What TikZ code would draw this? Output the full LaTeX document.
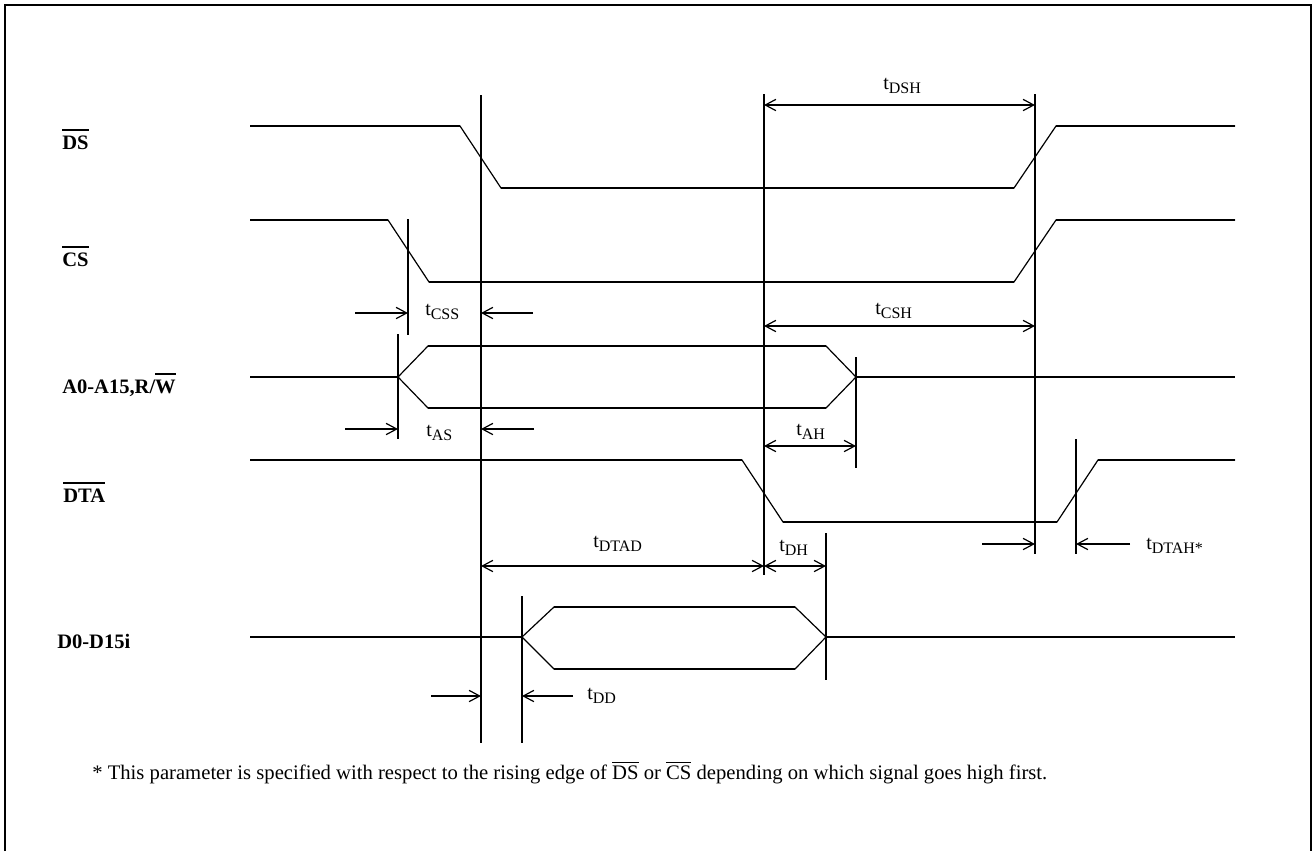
\documentclass[tikz,border=0pt]{standalone}
\usepackage{fontspec}
\setmainfont{Liberation Serif}
\usetikzlibrary{arrows.meta}
\newcommand\ovlB[1]{\leavevmode\vbox{\hrule height 1.5pt\kern 3.2pt\hbox{#1}}}
\newcommand\ovlF[1]{\leavevmode\vbox{\hrule height 0.8pt\kern 1.8pt\hbox{#1}}}
\newcommand\tlab[1]{t\raisebox{-3.5pt}{\fontsize{12pt}{14pt}\selectfont #1}}
\begin{document}
\begin{tikzpicture}[x=0.75pt,y=-0.75pt,
  sig/.style={line width=1.5pt},
  slope/.style={line width=0.9pt, line join=miter},
  vline/.style={line width=1.5pt},
  tip/.tip={Straight Barb[length=8pt,width=8.5pt,line width=0.9pt]},
  dim/.style={line width=1.5pt,-tip},
  ddim/.style={line width=1.5pt,tip-tip},
  lab/.style={anchor=base west,inner sep=0pt,font=\fontsize{15.4pt}{18pt}\selectfont\bfseries},
  tl/.style={anchor=base west,inner sep=0pt,font=\fontsize{15pt}{18pt}\selectfont},
  fn/.style={anchor=base west,inner sep=0pt,font=\fontsize{15.5pt}{18pt}\selectfont},
]
\useasboundingbox (0,0) rectangle (1315,851);
% frame
\draw[line width=1.5pt] (5,851) -- (5,5) -- (1311,5) -- (1311,851);

% signal labels
\node[lab] (lDS) at (62,149) {\ovlB{DS}};
\node[lab] (lCS) at (62,266) {\ovlB{CS}};
\node[lab] (lA) at (62,393) {A0-A15,R/\ovlB{W}};
\node[lab] (lDTA) at (63,502) {\ovlB{DTA}};
\node[lab] (lD) at (57,648) {D0-D15i};

% DS
\draw[slope] (250,126) -- (460,126) -- (501,188) -- (1014,188) -- (1056,126) -- (1235,126);
\draw[sig] (250,126) -- (460,126) (501,188) -- (1014,188) (1056,126) -- (1235,126);
% CS
\draw[slope] (250,220) -- (388,220) -- (429,282) -- (1014,282) -- (1056,220) -- (1235,220);
\draw[sig] (250,220) -- (388,220) (429,282) -- (1014,282) (1056,220) -- (1235,220);
% A bus
\draw[slope] (398,377) -- (428,346) -- (826,346) -- (856,377) -- (826,408) -- (428,408) -- cycle;
\draw[sig] (250,377) -- (398,377) (428,346) -- (826,346) (428,408) -- (826,408) (856,377) -- (1235,377);
% DTA
\draw[slope] (250,460) -- (742,460) -- (783,522) -- (1057,522) -- (1098,460) -- (1235,460);
\draw[sig] (250,460) -- (742,460) (783,522) -- (1057,522) (1098,460) -- (1235,460);
% D bus
\draw[slope] (522,637) -- (554,607) -- (795,607) -- (826,637) -- (795,669) -- (554,669) -- cycle;
\draw[sig] (250,637) -- (522,637) (554,607) -- (795,607) (554,669) -- (795,669) (826,637) -- (1235,637);

% vertical reference lines
\coordinate (v1t) at (481,95);   \coordinate (v1b) at (481,743);
\coordinate (v2t) at (408,219);  \coordinate (v2b) at (408,335);
\coordinate (v3t) at (398,334);  \coordinate (v3b) at (398,439);
\coordinate (v4t) at (1035,94);  \coordinate (v4b) at (1035,554);
\coordinate (v5t) at (764,94);   \coordinate (v5b) at (764,575);
\coordinate (v6t) at (856,357);  \coordinate (v6b) at (856,468);
\coordinate (v7t) at (1076,439); \coordinate (v7b) at (1076,554);
\coordinate (v8t) at (826,533);  \coordinate (v8b) at (826,680);
\coordinate (v9t) at (522,596);  \coordinate (v9b) at (522,743);
\foreach \v in {1,...,9} {\draw[vline] (v\v t) -- (v\v b);}

% timing arrows
\draw[ddim] (764,105) -- (1035,105);
\node[tl] (tDSH) at (883,89) {\tlab{DSH}};
\draw[ddim] (764,326) -- (1035,326);
\node[tl] (tCSH) at (875,314) {\tlab{CSH}};
\draw[dim] (355,313) -- (408,313);
\draw[dim] (533,313) -- (481,313);
\node[tl] (tCSS) at (425,315) {\tlab{CSS}};
\draw[dim] (345,429) -- (398,429);
\draw[dim] (534,429) -- (481,429);
\node[tl] (tAS) at (426,436) {\tlab{AS}};
\draw[ddim] (764,446) -- (856,446);
\node[tl] (tAH) at (796,435) {\tlab{AH}};
\draw[ddim] (481,566) -- (764,566);
\node[tl] (tDTAD) at (593,547) {\tlab{DTAD}};
\draw[ddim] (764,566) -- (826,566);
\node[tl] (tDH) at (779,551) {\tlab{DH}};
\draw[dim] (982,544) -- (1035,544);
\draw[dim] (1130,544) -- (1076,544);
\node[tl] (tDTAH) at (1146,549) {\tlab{DTAH*}};
\draw[dim] (431,696) -- (481,696);
\draw[dim] (573,696) -- (522,696);
\node[tl] (tDD) at (587,699) {\tlab{DD}};

% footnote
\node[fn] (note) at (92,779) {* This parameter is specified with respect to the rising edge of \ovlF{DS} or \ovlF{CS} depending on which signal goes high first.};
\end{tikzpicture}
\end{document}
